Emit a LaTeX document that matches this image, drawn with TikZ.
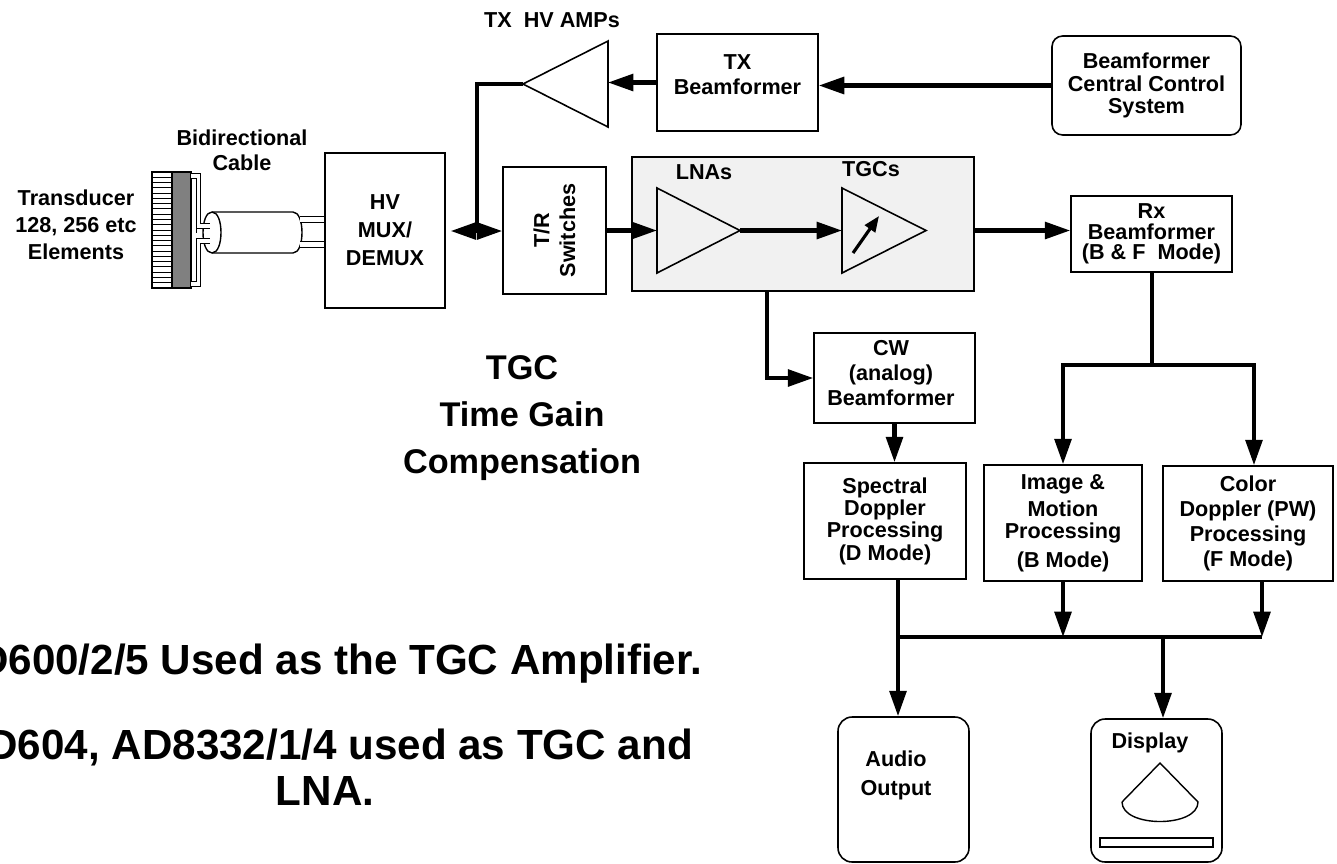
\documentclass[tikz,border=0pt]{standalone}
\usepackage{fontspec}
\setmainfont{Liberation Sans}
\usetikzlibrary{arrows.meta,positioning,calc}

\newcommand{\blkfont}{\fontsize{12.3}{13}\selectfont\bfseries}
\newcommand{\bigfont}{\fontsize{19.5}{26.7}\selectfont\bfseries}
\newcommand{\notefont}{\fontsize{24}{26}\selectfont\bfseries}

\begin{document}
\begin{tikzpicture}[x=0.02cm, y=-0.02cm,
  blk/.style={draw, line width=0.9pt, fill=white, inner sep=0pt, align=center, font=\blkfont},
  rblk/.style={blk, rounded corners=6pt},
  lbl/.style={inner sep=0pt, align=center, font=\blkfont},
  wire/.style={line width=2.3pt},
  sig/.style={wire, -{Triangle[length=14.5pt,width=9.5pt]}},
  amp/.style={draw, line width=0.9pt, line join=miter},
  coax/.style={double, double distance=1.8pt, line width=0.6pt}]
\useasboundingbox (0,0) rectangle (1337,863);

% Transducer array
\draw[line width=0.6pt, fill=white] (152,172) rectangle (172,288);
\foreach \k in {1,...,21}
  \draw[line width=0.5pt] (152,{172+5.27*\k}) -- (172,{172+5.27*\k});
\draw[line width=1.1pt, fill=gray] (172,172) rectangle (191,288);
\node[lbl, font=\fontsize{12.3}{15.3}\selectfont\bfseries] (xdcr) at (76,225) {Transducer\\128, 256 etc\\Elements};

% Cable
\draw[line width=0.8pt, fill=white] (212,212) -- (293,212) .. controls (305,212) and (305,253) .. (293,253)
  -- (212,253) .. controls (200,253) and (200,212) .. (212,212);
\draw[line width=0.8pt] (212,212) .. controls (224,212) and (224,253) .. (212,253);
\draw[coax] (191,176) -- (198.5,176) -- (198.5,226) -- (210,226);
\draw[coax] (191,284) -- (198.5,284) -- (198.5,241) -- (210,241);
\draw[line width=0.5pt, dashed] (196,228) -- (196,239);
\node[lbl, font=\fontsize{12.3}{14.2}\selectfont\bfseries] (cablelbl) at (242,150) {Bidirectional\\Cable};

% Front end blocks
\node[blk, minimum width=2.4cm, minimum height=3.1cm, font=\fontsize{12.3}{16}\selectfont\bfseries] (mux) at (385,230.5) {HV\\MUX/\\DEMUX};
\node[blk, minimum width=2.06cm, minimum height=2.54cm] (tr) at (554.5,230.5) {};
\node[lbl, rotate=90, font=\fontsize{12.3}{14.8}\selectfont\bfseries] at (tr.center) {T/R\\Switches};
\coordinate (cab1) at (300,219.5);
\coordinate (cab2) at (300,244.5);
\draw[coax, double distance=2.6pt] (cab1) -- (cab1 -| mux.west);
\draw[coax, double distance=2.6pt] (cab2) -- (cab2 -| mux.west);

% Transmit path
\node[blk, minimum width=3.22cm, minimum height=1.94cm] (txbf) at (737.5,82.5) {};
\node[lbl, font=\fontsize{12.3}{14.2}\selectfont\bfseries] at (737.5,75) {TX\\Beamformer};
\node[rblk, minimum width=3.78cm, minimum height=1.98cm] (ctrl) at (1146.5,85.5) {Beamformer\\Central Control\\System};
\draw[amp, fill=white] (608,41) -- (608,127) -- (523,84) -- cycle;
\coordinate (ampin) at (608,84);
\coordinate (ampout) at (523,84);
\node[lbl] at (552,20) {TX\ \ HV AMPs};

% Receive front end
\node[draw, line width=0.9pt, fill=gray!11, inner sep=0pt, minimum width=6.84cm, minimum height=2.68cm] (rxfe) at (803,224) {};
\draw[amp] (657,188) -- (657,273) -- (740,230.5) -- cycle;
\draw[amp] (842,188) -- (842,273) -- (926,230.5) -- cycle;
\coordinate (lnain) at (657,230.5);
\coordinate (lnaout) at (740,230.5);
\coordinate (tgcin) at (842,230.5);
\coordinate (tgcout) at (926,230.5);
\draw[line width=1.8pt, -{Triangle[length=9pt,width=7pt]}] (853,253) -- (879,216);
\node[lbl] at (704,172) {LNAs};
\node[lbl] at (871,169) {TGCs};

% Beamformers and processing
\node[blk, minimum width=3.22cm, minimum height=1.52cm, font=\fontsize{12.3}{11.7}\selectfont\bfseries] (rx) at (1151.5,234) {Rx\\Beamformer\\(B \& F\ \ Mode)};
\node[blk, minimum width=3.22cm, minimum height=1.8cm] (cw) at (894.5,378) {};
\node[lbl, font=\fontsize{12.3}{14}\selectfont\bfseries] at (891,373) {CW\\(analog)\\Beamformer};
\node[blk, minimum width=3.24cm, minimum height=2.32cm, font=\fontsize{12.3}{12.7}\selectfont\bfseries] (spec) at (885,521) {Spectral\\Doppler\\Processing\\(D Mode)};
\node[blk, minimum width=3.16cm, minimum height=2.32cm, font=\fontsize{12.3}{12.6}\selectfont\bfseries] (img) at (1063,523) {Image \&\\[2.7pt]Motion\\Processing\\[3.8pt](B Mode)};
\node[blk, minimum width=3.4cm, minimum height=2.3cm, font=\fontsize{12.3}{14.2}\selectfont\bfseries] (color) at (1248,523.5) {Color\\Doppler (PW)\\Processing\\(F Mode)};

% Outputs
\node[rblk, rounded corners=8pt, minimum width=2.62cm, minimum height=2.9cm] (audio) at (903.5,789.5) {};
\node[lbl, font=\fontsize{12.3}{16.5}\selectfont\bfseries] at (896,775) {Audio\\Output};
\node[rblk, rounded corners=8pt, minimum width=2.62cm, minimum height=2.86cm] (disp) at (1156.5,790.5) {};
\node[lbl] at (1150,743) {Display};
\draw[line width=0.8pt] (1122,802) -- (1160,763) -- (1198,802) .. controls (1198,828) and (1122,828) .. (1122,802);
\draw[line width=0.8pt] (1100,838) rectangle (1213,847);

% Transmit connections
\coordinate (jct) at (477,231);
\draw[sig] (ctrl.west) -- (ctrl.west -| txbf.east);
\draw[sig] (txbf.west) -- (txbf.west -| ampin);
\draw[wire] (ampout) -| (jct);
\draw[sig, shorten >=2.8pt] (jct) -- (jct -| mux.east);
\draw[sig] (jct) -- (jct -| tr.west);

% Receive connections
\draw[sig] (lnain -| tr.east) -- (lnain);
\draw[sig] (lnaout) -- (tgcin);
\draw[sig] (tgcout -| rxfe.east) -- (tgcout -| rx.west);
\coordinate (cwtap) at (767,291);
\draw[sig] (cwtap) |- (cw.west);
\draw[sig] (cw.south) -- (cw.south |- spec.north);
\coordinate (split) at (1151.5,365);
\draw[wire] (rx.south) -- (split);
\draw[sig] (split) -| (img.north);
\draw[sig] (split) -| ([xshift=3.4pt]color.north);

% Output bus
\coordinate (busl) at (898,637);
\coordinate (busr) at (1262,637);
\coordinate (disptap) at (1163,637);
\draw[sig] (spec.south -| busl) -- (busl |- audio.north);
\draw[sig] (img.south) -- (img.south |- busl);
\draw[sig] (busr |- color.south) -- (busr);
\draw[wire] (busl) -- (busr);
\draw[sig] (disptap) -- (disptap |- disp.north);

% Notes
\node[lbl, font=\bigfont] (tgclbl) at (522,418) {TGC\\Time Gain\\Compensation};
\node[lbl, font=\notefont] (note1) at (325,664) {AD600/2/5 Used as the TGC Amplifier.};
\node[lbl, font=\notefont] (note2) at (325,767) {AD604, AD8332/1/4 used as TGC and\\LNA.};
\end{tikzpicture}
\end{document}
